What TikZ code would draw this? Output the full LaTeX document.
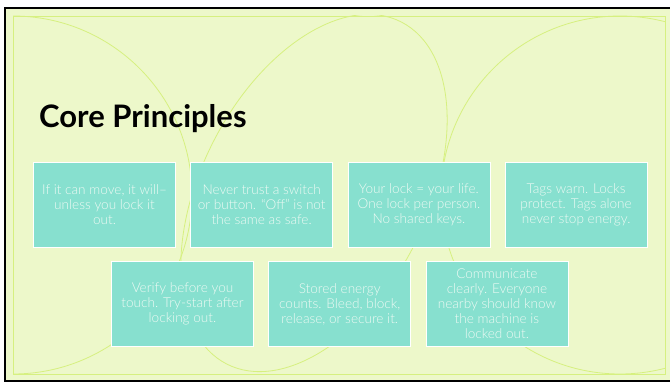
\documentclass[tikz,border=0pt]{standalone}
\usepackage{fontspec}
\setmainfont{Lato}
\newfontfamily\lightfont{Lato}[UprightFont={* Light}]
\usetikzlibrary{positioning}

\definecolor{slidebg}{RGB}{237,248,202}
\definecolor{arcline}{RGB}{214,240,128}
\definecolor{cardfill}{RGB}{135,224,207}
\definecolor{cardtext}{RGB}{238,250,244}

\begin{document}
\begin{tikzpicture}[x=1pt, y=-1pt,
    card/.style={draw=white, line width=0.7pt, fill=cardfill, text=cardtext,
        minimum width=142pt, minimum height=85pt, inner sep=1pt, align=center,
        font=\lightfont\fontsize{13.6}{15}\selectfont},
    arcs/.style={draw=arcline, line width=0.8pt}]

        \def\d{14.5pt}

        \useasboundingbox (0,0) rectangle (670,382);

        % Slide background with its frame
        \fill[white] (0,0) rectangle (670,382);
        \fill[slidebg] (5,8) rectangle (670,381);
        \draw[black, line width=1.6pt] (671,8) -- (5,8) -- (5,381) -- (671,381);

        % Thin arcs of the theme, cut to the inner frame
        \begin{scope}
            \clip (13,16) rectangle (665,374);
            \draw[arcs] (13,195) circle[radius=179pt];
            \draw[arcs] (620,195) circle[radius=179pt];
            \draw[arcs, shift={(314,193)}, rotate=63] (0,0) ellipse [x radius=192pt, y radius=113pt];
        \end{scope}
        \draw[arcs] (13,16) rectangle (665,374);

        % Title
        \node (title) [anchor=base west, inner sep=0pt, font=\bfseries\fontsize{31}{36}\selectfont] at (39,128) {Core Principles};

        % First row of cards
        \node (P1) [card] at (104.5,204.5) {If it can move, it will–\\unless you lock it\\out.};
        \node (P2) [card, right=\d of P1] {Never trust a switch\\or button. “Off” is not\\the same as safe.};
        \node (P3) [card, right=\d of P2] {Your lock = your life.\\One lock per person.\\No shared keys.};
        \node (P4) [card, right=\d of P3] {Tags warn. Locks\\protect. Tags alone\\never stop energy.};

        % Second row of cards
        \node (P5) [card] at (182.5,304) {Verify before you\\touch. Try-start after\\locking out.};
        \node (P6) [card, right=\d of P5] {Stored energy\\counts. Bleed, block,\\release, or secure it.};
        \node (P7) [card, right=\d of P6] {Communicate\\clearly. Everyone\\nearby should know\\the machine is\\locked out.};

\end{tikzpicture}
\end{document}
